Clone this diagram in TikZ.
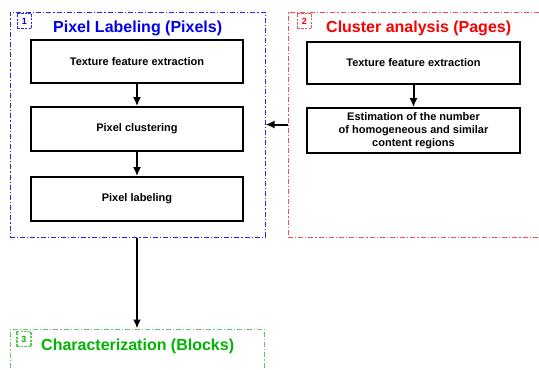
\documentclass[tikz,border=0pt]{standalone}
\usepackage{fontspec}
\setmainfont{Liberation Sans}
\usetikzlibrary{arrows.meta}
\definecolor{bluetitle}{RGB}{0,0,240}
\definecolor{blueframe}{RGB}{40,40,230}
\definecolor{redtitle}{RGB}{250,0,0}
\definecolor{redframe}{RGB}{245,80,80}
\definecolor{greentitle}{RGB}{0,180,0}
\definecolor{greenframe}{RGB}{90,200,90}
\tikzset{
  frame/.style={draw, line width=1pt, dash pattern=on 5pt off 2pt on 1.2pt off 2pt,
    inner sep=0pt, rectangle},
  stepbox/.style={draw=black, line width=1.7pt, fill=white, rectangle, inner sep=0pt,
    font=\fontsize{11}{13}\selectfont\bfseries, align=center},
  numbox/.style={draw, line width=1.2pt, dash pattern=on 2.5pt off 1.2pt, inner sep=0pt,
    minimum width=14pt, minimum height=15pt, font=\fontsize{9}{9}\selectfont\bfseries},
  title/.style={font=\fontsize{16}{18}\selectfont\bfseries, anchor=base west, inner sep=0pt},
  flow/.style={line width=2pt, -{Latex[length=9pt,width=8pt]}}
}
\begin{document}
\begin{tikzpicture}[x=1pt,y=-1pt]
\useasboundingbox[fill=white] (0,0) rectangle (539,370);

% the three stage frames
\node[frame, draw=blueframe, minimum width=255pt, minimum height=225pt] (pixfr) at (137.5,124.5) {};
\node[frame, draw=redframe, minimum width=258pt, minimum height=225pt] (pagefr) at (417,124.5) {};
\node[frame, draw=greenframe, minimum width=254pt, minimum height=60pt] (blockfr) at (137.5,359) {};

% stage numbers and titles
\node[numbox, draw=blueframe, text=bluetitle] (n1) at (24.5,21) {1};
\node[title, text=bluetitle] (t1) at (53,32) {Pixel Labeling (Pixels)};
\node[numbox, draw=redframe, text=redtitle] (n2) at (304.5,21) {2};
\node[title, text=redtitle] (t2) at (326,32) {Cluster analysis (Pages)};
\node[numbox, draw=greenframe, text=greentitle] (n3) at (24,339) {3};
\node[title, text=greentitle] (t3) at (41,350) {Characterization (Blocks)};

% pixel labeling steps
\node[stepbox, minimum width=212pt, minimum height=43pt] (a1) at (137,61.5) {Texture feature extraction};
\node[stepbox, minimum width=212pt, minimum height=44pt] (a2) at (137,129) {Pixel clustering};
\node[stepbox, minimum width=212pt, minimum height=44pt] (a3) at (137,199) {Pixel labeling};

% cluster analysis steps
\node[stepbox, minimum width=213pt, minimum height=42pt] (b1) at (413.5,63) {Texture feature extraction};
\node[stepbox, minimum width=213pt, minimum height=45pt] (b2) at (413.5,130.5)
  {Estimation of the number\\ of homogeneous and similar\\ content regions};

% connectors
\draw[flow] (a1) -- (a2);
\draw[flow] (a2) -- (a3);
\draw[flow] (b1) -- (b2);
\draw[flow] (pagefr.west) -- (pixfr.east);
\draw[flow] (pixfr.south -| a3) -- (blockfr.north -| a3);
\end{tikzpicture}
\end{document}
